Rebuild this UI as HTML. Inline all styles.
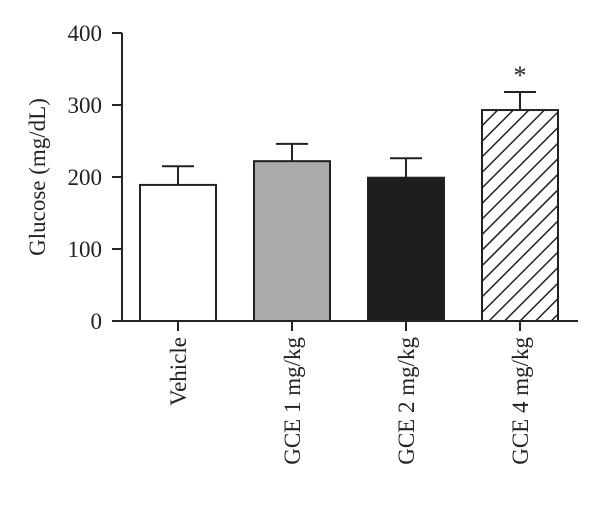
<!DOCTYPE html>
<html><head><meta charset="utf-8"><style>
body{margin:0;background:#fff;}
svg{display:block;font-family:"Liberation Serif",serif;}
</style></head><body>
<svg id="chart" width="600" height="521">
<defs>
<pattern id="hatch" patternUnits="userSpaceOnUse" width="11" height="11" patternTransform="rotate(45)">
<rect width="11" height="11" fill="#fff"/>
<line x1="0" y1="0" x2="0" y2="11" stroke="#222" stroke-width="3"/>
</pattern>
</defs>
</svg>
<script>
const categories=["Vehicle","GCE 1 mg/kg","GCE 2 mg/kg","GCE 4 mg/kg"];
const values=[189,222,199,293];
const errors=[26,24,27,25];
const fills=["#fff","#aaaaaa","#1e1e1e","url(#hatch)"];
const yTicks=[0,100,200,300,400];
const sig=[false,false,false,true];
const NS="http://www.w3.org/2000/svg";
const svg=document.getElementById('chart');
const x0=122,y0=321,yTop=33,xEnd=578,step=114,bw=76,first=178;
const y=v=>y0-(v/400)*(y0-yTop);
const cx=i=>first+i*step;
function mk(t,a,p){const e=document.createElementNS(NS,t);for(const k in a)e.setAttribute(k,a[k]);(p||svg).appendChild(e);return e;}
let e;
e=mk('line',{x1:x0,y1:yTop,x2:x0,y2:y0,stroke:'#222','stroke-width':2});


e=mk('line',{x1:x0-1,y1:y0,x2:xEnd,y2:y0,stroke:'#222','stroke-width':2});


yTicks.forEach(t=>{
 e=mk('line',{x1:x0-10,y1:y(t),x2:x0,y2:y(t),stroke:'#222','stroke-width':2});
 
 
 e=mk('text',{x:x0-20,y:y(t)+8,'text-anchor':'end','font-size':23,fill:'#222'});
 e.textContent=t;
 
 
});
e=mk('text',{x:0,y:0,transform:'translate(45,177) rotate(-90)','text-anchor':'middle','font-size':23,fill:'#222'});
e.textContent='Glucose (mg/dL)';


categories.forEach((c,i)=>{
 const c0=cx(i);
 e=mk('line',{x1:c0,y1:y(values[i]),x2:c0,y2:y(values[i]+errors[i]),stroke:'#222','stroke-width':2});
 
 
 e=mk('line',{x1:c0-16,y1:y(values[i]+errors[i]),x2:c0+16,y2:y(values[i]+errors[i]),stroke:'#222','stroke-width':2});
 
 
 e=mk('rect',{x:c0-bw/2,y:y(values[i]),width:bw,height:y0-y(values[i]),fill:fills[i],stroke:'#222','stroke-width':2});
 
 
 e=mk('line',{x1:c0,y1:y0,x2:c0,y2:y0+10,stroke:'#222','stroke-width':2});
 
 
 e=mk('text',{x:0,y:0,transform:`translate(${c0+8},${y0+16}) rotate(-90)`,'text-anchor':'end','font-size':23,fill:'#222'});
 e.textContent=c;
 
 
 if(sig[i]){
  e=mk('text',{x:c0,y:y(values[i]+errors[i])-8,'text-anchor':'middle','font-size':26,fill:'#222'});
  e.textContent='*';
  
  
 }
});
</script>
</body></html>
